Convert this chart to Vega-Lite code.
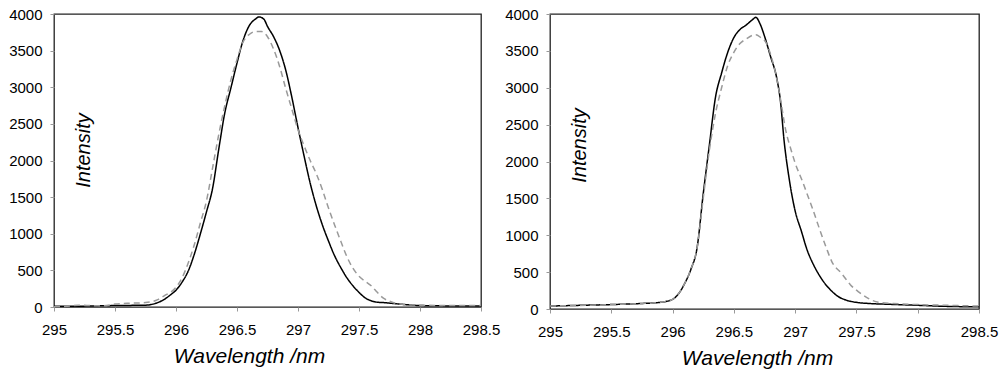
{
  "$schema": "https://vega.github.io/schema/vega-lite/v6.json",
  "background": "white",
  "padding": {"left": 7, "top": 6, "right": 5, "bottom": 5},
  "spacing": 2,
  "config": {
    "view": {"stroke": "#222222", "strokeWidth": 1.3},
    "axis": {
      "labelFont": "Liberation Sans", "labelFontSize": 15, "labelColor": "#000000",
      "tickColor": "#999999", "tickSize": 4, "domain": false, "grid": false,
      "titleFont": "Liberation Sans", "titleFontStyle": "italic", "titleFontWeight": "normal",
      "titleColor": "#000000", "labelFlush": false
    },
    "axisX": {"labelPadding": 11, "titleFontSize": 21},
    "axisY": {"labelPadding": 8, "titleFontSize": 20}
  },
  "datasets": {
    "left": [
      {"wl": 295, "I": 10, "s": "m"}, {"wl": 295.25, "I": 12, "s": "m"}, {"wl": 295.5, "I": 20, "s": "m"}, {"wl": 295.75, "I": 25, "s": "m"},
      {"wl": 295.85, "I": 60, "s": "m"}, {"wl": 295.9, "I": 100, "s": "m"}, {"wl": 295.95, "I": 160, "s": "m"}, {"wl": 296.0, "I": 230, "s": "m"},
      {"wl": 296.05, "I": 340, "s": "m"}, {"wl": 296.1, "I": 490, "s": "m"}, {"wl": 296.15, "I": 720, "s": "m"}, {"wl": 296.2, "I": 1000, "s": "m"},
      {"wl": 296.25, "I": 1300, "s": "m"}, {"wl": 296.3, "I": 1620, "s": "m"}, {"wl": 296.35, "I": 2150, "s": "m"}, {"wl": 296.4, "I": 2650, "s": "m"},
      {"wl": 296.45, "I": 2990, "s": "m"}, {"wl": 296.5, "I": 3330, "s": "m"}, {"wl": 296.55, "I": 3640, "s": "m"}, {"wl": 296.6, "I": 3840, "s": "m"},
      {"wl": 296.65, "I": 3930, "s": "m"}, {"wl": 296.68, "I": 3960, "s": "m"}, {"wl": 296.72, "I": 3930, "s": "m"}, {"wl": 296.75, "I": 3830, "s": "m"},
      {"wl": 296.8, "I": 3690, "s": "m"}, {"wl": 296.85, "I": 3500, "s": "m"}, {"wl": 296.9, "I": 3230, "s": "m"}, {"wl": 296.95, "I": 2860, "s": "m"},
      {"wl": 297.0, "I": 2450, "s": "m"}, {"wl": 297.05, "I": 2060, "s": "m"}, {"wl": 297.1, "I": 1690, "s": "m"}, {"wl": 297.15, "I": 1380, "s": "m"},
      {"wl": 297.2, "I": 1120, "s": "m"}, {"wl": 297.25, "I": 900, "s": "m"}, {"wl": 297.3, "I": 700, "s": "m"}, {"wl": 297.35, "I": 540, "s": "m"},
      {"wl": 297.4, "I": 400, "s": "m"}, {"wl": 297.45, "I": 290, "s": "m"}, {"wl": 297.5, "I": 200, "s": "m"}, {"wl": 297.55, "I": 125, "s": "m"},
      {"wl": 297.6, "I": 85, "s": "m"}, {"wl": 297.65, "I": 65, "s": "m"}, {"wl": 297.7, "I": 60, "s": "m"}, {"wl": 297.8, "I": 45, "s": "m"},
      {"wl": 297.9, "I": 30, "s": "m"}, {"wl": 298.0, "I": 20, "s": "m"}, {"wl": 298.25, "I": 15, "s": "m"}, {"wl": 298.5, "I": 15, "s": "m"},

      {"wl": 295, "I": 5, "s": "f"}, {"wl": 295.1, "I": 10, "s": "f"}, {"wl": 295.2, "I": 25, "s": "f"}, {"wl": 295.3, "I": 20, "s": "f"},
      {"wl": 295.4, "I": 15, "s": "f"}, {"wl": 295.5, "I": 40, "s": "f"}, {"wl": 295.6, "I": 50, "s": "f"}, {"wl": 295.75, "I": 60, "s": "f"},
      {"wl": 295.85, "I": 100, "s": "f"}, {"wl": 295.9, "I": 150, "s": "f"}, {"wl": 296.0, "I": 270, "s": "f"}, {"wl": 296.05, "I": 400, "s": "f"},
      {"wl": 296.1, "I": 600, "s": "f"}, {"wl": 296.15, "I": 850, "s": "f"}, {"wl": 296.2, "I": 1150, "s": "f"}, {"wl": 296.25, "I": 1450, "s": "f"},
      {"wl": 296.3, "I": 1900, "s": "f"}, {"wl": 296.35, "I": 2350, "s": "f"}, {"wl": 296.4, "I": 2750, "s": "f"}, {"wl": 296.45, "I": 3100, "s": "f"},
      {"wl": 296.5, "I": 3380, "s": "f"}, {"wl": 296.55, "I": 3620, "s": "f"}, {"wl": 296.6, "I": 3720, "s": "f"}, {"wl": 296.65, "I": 3760, "s": "f"},
      {"wl": 296.7, "I": 3760, "s": "f"}, {"wl": 296.75, "I": 3690, "s": "f"}, {"wl": 296.8, "I": 3520, "s": "f"}, {"wl": 296.85, "I": 3280, "s": "f"},
      {"wl": 296.9, "I": 2980, "s": "f"}, {"wl": 296.95, "I": 2700, "s": "f"}, {"wl": 297.0, "I": 2420, "s": "f"}, {"wl": 297.05, "I": 2200, "s": "f"},
      {"wl": 297.1, "I": 2000, "s": "f"}, {"wl": 297.15, "I": 1820, "s": "f"}, {"wl": 297.2, "I": 1600, "s": "f"}, {"wl": 297.25, "I": 1350, "s": "f"},
      {"wl": 297.3, "I": 1120, "s": "f"}, {"wl": 297.35, "I": 900, "s": "f"}, {"wl": 297.4, "I": 690, "s": "f"}, {"wl": 297.45, "I": 530, "s": "f"},
      {"wl": 297.5, "I": 420, "s": "f"}, {"wl": 297.55, "I": 350, "s": "f"}, {"wl": 297.6, "I": 290, "s": "f"}, {"wl": 297.65, "I": 200, "s": "f"},
      {"wl": 297.7, "I": 120, "s": "f"}, {"wl": 297.75, "I": 80, "s": "f"}, {"wl": 297.8, "I": 50, "s": "f"}, {"wl": 297.9, "I": 30, "s": "f"},
      {"wl": 298.0, "I": 25, "s": "f"}, {"wl": 298.25, "I": 20, "s": "f"}, {"wl": 298.5, "I": 20, "s": "f"}
    ],
    "right": [
      {"wl": 295, "I": 40, "s": "m"}, {"wl": 295.25, "I": 50, "s": "m"}, {"wl": 295.5, "I": 60, "s": "m"}, {"wl": 295.75, "I": 75, "s": "m"},
      {"wl": 295.9, "I": 90, "s": "m"}, {"wl": 296.0, "I": 130, "s": "m"}, {"wl": 296.05, "I": 210, "s": "m"}, {"wl": 296.1, "I": 350, "s": "m"},
      {"wl": 296.15, "I": 540, "s": "m"}, {"wl": 296.2, "I": 830, "s": "m"}, {"wl": 296.25, "I": 1560, "s": "m"}, {"wl": 296.3, "I": 2220, "s": "m"},
      {"wl": 296.35, "I": 2870, "s": "m"}, {"wl": 296.4, "I": 3200, "s": "m"}, {"wl": 296.45, "I": 3480, "s": "m"}, {"wl": 296.5, "I": 3680, "s": "m"},
      {"wl": 296.55, "I": 3790, "s": "m"}, {"wl": 296.6, "I": 3850, "s": "m"}, {"wl": 296.65, "I": 3920, "s": "m"}, {"wl": 296.68, "I": 3955, "s": "m"},
      {"wl": 296.71, "I": 3880, "s": "m"}, {"wl": 296.75, "I": 3700, "s": "m"}, {"wl": 296.8, "I": 3420, "s": "m"}, {"wl": 296.85, "I": 3130, "s": "m"},
      {"wl": 296.88, "I": 2820, "s": "m"}, {"wl": 296.91, "I": 2280, "s": "m"}, {"wl": 296.95, "I": 1780, "s": "m"}, {"wl": 297.0, "I": 1330, "s": "m"},
      {"wl": 297.05, "I": 1060, "s": "m"}, {"wl": 297.1, "I": 790, "s": "m"}, {"wl": 297.15, "I": 600, "s": "m"}, {"wl": 297.2, "I": 450, "s": "m"},
      {"wl": 297.25, "I": 330, "s": "m"}, {"wl": 297.3, "I": 240, "s": "m"}, {"wl": 297.35, "I": 170, "s": "m"}, {"wl": 297.4, "I": 130, "s": "m"},
      {"wl": 297.45, "I": 105, "s": "m"}, {"wl": 297.5, "I": 90, "s": "m"}, {"wl": 297.6, "I": 75, "s": "m"}, {"wl": 297.75, "I": 65, "s": "m"},
      {"wl": 298.0, "I": 50, "s": "m"}, {"wl": 298.25, "I": 35, "s": "m"}, {"wl": 298.5, "I": 30, "s": "m"},

      {"wl": 295, "I": 40, "s": "f"}, {"wl": 295.5, "I": 60, "s": "f"}, {"wl": 295.9, "I": 90, "s": "f"}, {"wl": 296.0, "I": 130, "s": "f"},
      {"wl": 296.05, "I": 210, "s": "f"}, {"wl": 296.1, "I": 350, "s": "f"}, {"wl": 296.15, "I": 540, "s": "f"}, {"wl": 296.2, "I": 830, "s": "f"},
      {"wl": 296.25, "I": 1500, "s": "f"}, {"wl": 296.3, "I": 2150, "s": "f"}, {"wl": 296.35, "I": 2650, "s": "f"}, {"wl": 296.4, "I": 3000, "s": "f"},
      {"wl": 296.45, "I": 3300, "s": "f"}, {"wl": 296.5, "I": 3480, "s": "f"}, {"wl": 296.55, "I": 3600, "s": "f"}, {"wl": 296.6, "I": 3660, "s": "f"},
      {"wl": 296.65, "I": 3710, "s": "f"}, {"wl": 296.68, "I": 3720, "s": "f"}, {"wl": 296.72, "I": 3680, "s": "f"}, {"wl": 296.76, "I": 3620, "s": "f"},
      {"wl": 296.8, "I": 3450, "s": "f"}, {"wl": 296.84, "I": 3200, "s": "f"}, {"wl": 296.88, "I": 2850, "s": "f"}, {"wl": 296.92, "I": 2450, "s": "f"},
      {"wl": 296.97, "I": 2140, "s": "f"}, {"wl": 297.0, "I": 1980, "s": "f"}, {"wl": 297.06, "I": 1730, "s": "f"}, {"wl": 297.1, "I": 1550, "s": "f"},
      {"wl": 297.14, "I": 1370, "s": "f"}, {"wl": 297.2, "I": 1080, "s": "f"}, {"wl": 297.25, "I": 850, "s": "f"}, {"wl": 297.3, "I": 640, "s": "f"},
      {"wl": 297.38, "I": 480, "s": "f"}, {"wl": 297.45, "I": 330, "s": "f"}, {"wl": 297.52, "I": 230, "s": "f"}, {"wl": 297.6, "I": 140, "s": "f"},
      {"wl": 297.68, "I": 90, "s": "f"}, {"wl": 297.8, "I": 75, "s": "f"}, {"wl": 298.0, "I": 60, "s": "f"}, {"wl": 298.25, "I": 50, "s": "f"},
      {"wl": 298.5, "I": 40, "s": "f"}
    ]
  },
  "hconcat": [
    {
      "width": 427, "height": 293,
      "data": {"name": "left"},
      "mark": {"type": "line", "interpolate": "monotone", "strokeWidth": 1.5},
      "encoding": {
        "x": {"field": "wl", "type": "quantitative",
              "scale": {"domain": [295, 298.5], "nice": false, "zero": false},
              "axis": {"values": [295, 295.5, 296, 296.5, 297, 297.5, 298, 298.5], "format": "~f",
                       "title": "Wavelength /nm", "titleX": 195, "titleY": 55, "titleBaseline": "alphabetic", "titleAlign": "center"}},
        "y": {"field": "I", "type": "quantitative",
              "scale": {"domain": [0, 4000], "nice": false},
              "axis": {"values": [0, 500, 1000, 1500, 2000, 2500, 3000, 3500, 4000], "format": "d",
                       "title": "Intensity", "titleX": 29, "titleY": 136, "titleAngle": 270, "titleBaseline": "middle", "titleAlign": "center"}},
        "color": {"field": "s", "type": "nominal", "scale": {"domain": ["m", "f"], "range": ["#000000", "#9a9a9a"]}, "legend": null},
        "strokeDash": {"field": "s", "type": "nominal", "scale": {"domain": ["m", "f"], "range": [[1, 0], [6, 4]]}, "legend": null}
      }
    },
    {
      "width": 429, "height": 295,
      "data": {"name": "right"},
      "mark": {"type": "line", "interpolate": "monotone", "strokeWidth": 1.5},
      "encoding": {
        "x": {"field": "wl", "type": "quantitative",
              "scale": {"domain": [295, 298.5], "nice": false, "zero": false},
              "axis": {"values": [295, 295.5, 296, 296.5, 297, 297.5, 298, 298.5], "format": "~f",
                       "title": "Wavelength /nm", "titleX": 207, "titleY": 55, "titleBaseline": "alphabetic", "titleAlign": "center"}},
        "y": {"field": "I", "type": "quantitative",
              "scale": {"domain": [0, 4000], "nice": false},
              "axis": {"values": [0, 500, 1000, 1500, 2000, 2500, 3000, 3500, 4000], "format": "d",
                       "title": "Intensity", "titleX": 29, "titleY": 131, "titleAngle": 270, "titleBaseline": "middle", "titleAlign": "center"}},
        "color": {"field": "s", "type": "nominal", "scale": {"domain": ["m", "f"], "range": ["#000000", "#9a9a9a"]}, "legend": null},
        "strokeDash": {"field": "s", "type": "nominal", "scale": {"domain": ["m", "f"], "range": [[1, 0], [6, 4]]}, "legend": null}
      }
    }
  ]
}
